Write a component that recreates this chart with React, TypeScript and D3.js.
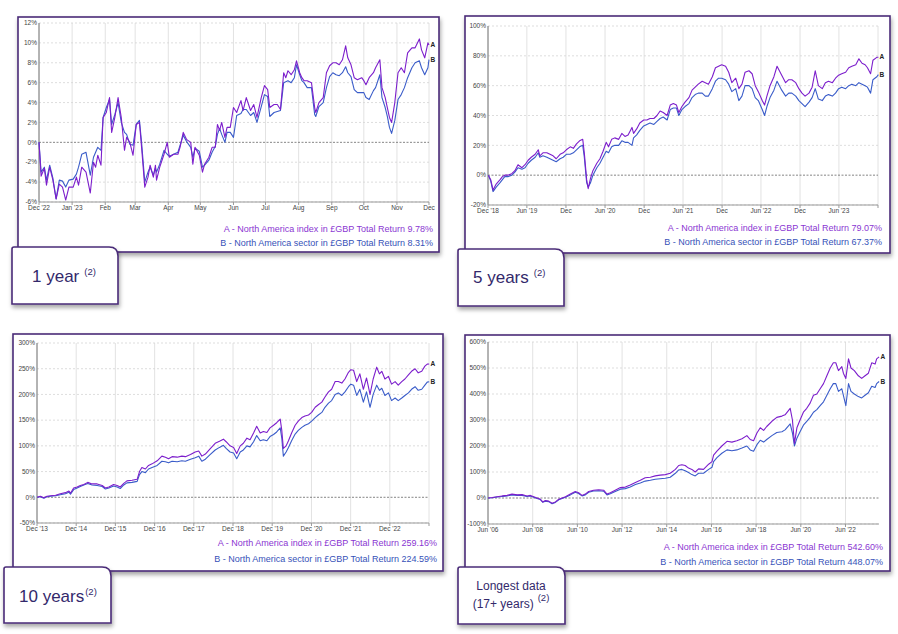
import React from 'react';
import * as d3 from 'd3';

// ---------- 1 year (days since 1 Dec 2022) ----------
const oneYearDays = [0,2,5,7,10,13,16,19,22,25,28,32,35,37,40,44,48,51,53,55,58,60,63,66,68,71,74,77,80,82,85,88,91,94,96,99,102,104,107,109,110,113,117,120,122,126,130,132,135,138,142,144,146,150,153,155,159,162,165,167,169,171,174,176,179,182,185,189,191,194,198,201,204,208,211,214,216,220,223,226,229,231,233,236,239,241,244,246,248,251,255,258,259,262,266,269,272,275,278,281,284,287,289,292,295,298,302,304,306,309,313,315,319,321,324,326,328,330,333,336,339,342,345,349,352,356,358,361,364,365];
const oneYearA = [0,-3.4,-2.6,-4.3,-2.5,-3.8,-5.7,-4.2,-4.5,-5.8,-4.5,-4.5,-3.5,-4.3,-2.5,-3,-5.1,-2,-2.5,-1.3,-2.3,2.5,3,4.5,1,2.5,4.5,2.5,-0.8,0.5,0,-1.3,1.8,2,-0.5,-4.5,-3.5,-2.3,-3.5,-2.3,-3.8,-2.5,-1.2,0,-1.5,-1.2,-1.2,-0.5,1,0.3,0,-2.2,-0.5,-1.3,-3,-2.2,-1.5,-0.5,-0.5,1.8,1.2,2,0.5,1.5,1.5,3.5,3,4.2,3.2,4.5,3.2,3.8,2.5,4.5,5.7,5.3,3.5,3.8,3.8,3.3,7,6.5,7.2,6.8,7.3,8.2,7,6.5,6.2,6.2,6,3.5,3,4,4.5,7,7.7,8,8,7.8,8.3,9.7,8.5,7.8,6.5,6.3,6.5,6.2,5.8,6.5,7,7.5,8.3,5.5,4.5,3.5,2.5,2,4,7,7.5,7,9,9.5,9.5,10.4,9.3,8.5,10,9.78];
const oneYearB = [0,-3,-2.5,-3.8,-2.3,-3.6,-5.7,-3.8,-3.9,-4.5,-3.8,-3.7,-3.2,-2.5,-1.2,-1,-3.3,-1.5,-1,-0.5,-0.8,2.5,3.5,4.3,1.8,2.8,4,2,1,0.8,-0.2,-0.3,1.8,2.2,0,-4,-3,-2.5,-3.3,-2.6,-3,-2.2,-0.8,-1.2,-1.4,-1.2,-1,-0.3,0.7,0.1,-0.5,-1.5,-0.6,-0.9,-2.5,-2.3,-1.8,-1,-0.4,0.8,1.4,0.8,0,1,1,0.5,2.7,2.9,3.3,3.3,2.7,3,2,3.6,4.8,4.6,2.6,3,3.1,3.2,6,6.1,6.2,6,6.5,7.8,6.8,6.2,6,5.5,5.5,2.8,2.6,3.6,4,5.5,6.6,7,6.8,6.7,7,7.6,7,6.6,5.3,5,5,5,4.5,4.3,5.2,5.5,6.8,4.5,3.5,2.6,1.5,0.9,2.2,4.3,4.8,5.5,6.5,7.5,8,8.2,7.5,6.8,7.5,8.31];
const oneYearYTicks = [-6,-4,-2,0,2,4,6,8,10,12];
const oneYearXLabels = ["Dec '22","Jan '23","Feb","Mar","Apr","May","Jun","Jul","Aug","Sep","Oct","Nov","Dec"];

// ---------- 5 years (decimal years) ----------
const fiveYearDates = [2018.92,2018.95,2018.98,2019.02,2019.07,2019.10,2019.13,2019.17,2019.22,2019.26,2019.30,2019.35,2019.39,2019.43,2019.47,2019.52,2019.56,2019.58,2019.62,2019.67,2019.71,2019.75,2019.79,2019.84,2019.88,2019.92,2019.97,2020.01,2020.05,2020.09,2020.13,2020.15,2020.18,2020.20,2020.23,2020.26,2020.31,2020.35,2020.39,2020.43,2020.46,2020.50,2020.54,2020.59,2020.63,2020.67,2020.71,2020.76,2020.78,2020.82,2020.86,2020.91,2020.95,2020.99,2021.04,2021.08,2021.12,2021.16,2021.21,2021.25,2021.29,2021.33,2021.36,2021.40,2021.44,2021.49,2021.53,2021.57,2021.61,2021.66,2021.70,2021.74,2021.79,2021.83,2021.87,2021.91,2021.96,2022.00,2022.04,2022.09,2022.13,2022.17,2022.21,2022.26,2022.30,2022.34,2022.38,2022.43,2022.46,2022.49,2022.53,2022.58,2022.62,2022.65,2022.68,2022.73,2022.77,2022.81,2022.86,2022.90,2022.94,2022.98,2023.03,2023.07,2023.11,2023.15,2023.20,2023.24,2023.28,2023.33,2023.37,2023.41,2023.45,2023.50,2023.54,2023.58,2023.63,2023.67,2023.71,2023.75,2023.78,2023.82,2023.85,2023.90,2023.92];
const fiveYearA = [0,-3,-10,-6,-3,-1,0,0,1,3,7,5,7,10,12,14,17,13,15,15,14,13,11,14,15,17,19,18,21,23,24,15,-3,-9,-2,3,8,11,16,22,19,24,25,24,28,26,27,32,28,31,35,37,37,38,38,40,43,42,40,47,48,47,42,46,49,52,57,59,61,63,62,61,66,72,73,74,73,69,62,65,58,61,69,70,68,60,56,50,47,53,60,66,73,70,67,62,64,64,62,58,55,53,55,59,70,60,58,62,63,62,65,67,68,69,72,73,74,78,75,74,72,68,77,79,79.07];
const fiveYearB = [0,-4,-11,-8,-5,-3,-1,-1,0,2,5,4,5,8,10,12,15,12,13,12,11,10,9,11,12,14,14,15,17,19,20,12,-5,-8,-5,0,5,8,12,16,15,19,20,20,23,22,22,20,25,27,30,33,34,35,34,36,38,39,37,44,45,45,40,44,46,48,52,54,55,55,53,53,58,63,65,65,64,61,56,58,50,53,60,60,58,52,50,44,40,46,52,57,63,60,57,53,55,55,53,50,48,46,49,52,58,51,50,53,54,53,55,58,59,58,60,61,60,62,61,60,59,55,64,66,67.37];
const fiveYearYTicks = [-20,0,20,40,60,80,100];
const fiveYearXLabels = ["Dec '18","Jun '19","Dec","Jun '20","Dec","Jun '21","Dec","Jun '22","Dec","Jun '23",""];

// ---------- 10 years (decimal years) ----------
const tenYearDates = [2013.92,2014.00,2014.09,2014.17,2014.26,2014.39,2014.51,2014.64,2014.73,2014.77,2014.85,2014.94,2015.02,2015.11,2015.21,2015.32,2015.45,2015.58,2015.66,2015.75,2015.87,2015.96,2016.04,2016.13,2016.21,2016.34,2016.47,2016.53,2016.59,2016.68,2016.76,2016.85,2016.98,2017.10,2017.19,2017.27,2017.36,2017.49,2017.61,2017.70,2017.83,2017.95,2018.04,2018.12,2018.21,2018.33,2018.46,2018.57,2018.67,2018.74,2018.84,2018.93,2019.01,2019.10,2019.18,2019.27,2019.35,2019.44,2019.52,2019.61,2019.69,2019.78,2019.86,2019.95,2020.03,2020.12,2020.16,2020.20,2020.27,2020.33,2020.41,2020.50,2020.58,2020.67,2020.75,2020.84,2020.92,2021.01,2021.09,2021.18,2021.26,2021.35,2021.43,2021.52,2021.60,2021.69,2021.77,2021.86,2021.92,2021.99,2022.07,2022.15,2022.24,2022.32,2022.41,2022.49,2022.58,2022.65,2022.71,2022.79,2022.88,2022.96,2023.05,2023.13,2023.22,2023.30,2023.39,2023.47,2023.56,2023.64,2023.73,2023.81,2023.87,2023.92];
const tenYearA = [0,2,-1,2,3,4,7,9,12,8,18,20,23,25,29,26,26,23,18,20,25,23,20,27,32,33,35,50,58,55,62,65,71,80,78,75,79,78,80,79,83,88,90,80,84,94,105,109,113,108,100,97,85,100,105,115,112,125,138,125,128,126,135,140,145,152,130,95,100,110,125,140,148,155,158,160,165,175,180,185,195,205,210,225,225,222,230,243,248,247,225,240,210,232,200,230,253,240,245,230,235,220,225,218,225,230,238,245,250,242,245,255,259,259.16];
const tenYearB = [0,1,-2,1,2,3,5,7,10,6,15,18,21,24,27,24,23,21,16,18,22,20,17,24,28,29,31,44,50,48,55,58,62,70,69,67,70,69,71,70,74,77,80,70,74,83,92,97,101,95,88,86,75,88,92,100,98,108,120,110,112,110,118,122,127,135,115,80,88,97,110,123,130,136,140,143,148,155,160,165,175,183,188,200,203,198,205,215,220,218,198,210,185,205,175,200,218,208,212,198,203,188,193,188,193,198,203,210,215,208,210,218,224,224.59];
const tenYearYTicks = [-50,0,50,100,150,200,250,300];
const tenYearXLabels = ["Dec '13","Dec '14","Dec '15","Dec '16","Dec '17","Dec '18","Dec '19","Dec '20","Dec '21","Dec '22",""];

// ---------- Longest (decimal years) ----------
const longDates = [2006.42,2006.60,2006.82,2007.05,2007.27,2007.49,2007.72,2007.94,2008.16,2008.31,2008.46,2008.61,2008.76,2008.86,2008.98,2009.13,2009.28,2009.43,2009.58,2009.73,2009.88,2010.10,2010.32,2010.47,2010.62,2010.77,2010.92,2011.14,2011.37,2011.59,2011.74,2011.89,2012.11,2012.34,2012.56,2012.78,2013.01,2013.23,2013.45,2013.68,2013.90,2014.12,2014.35,2014.57,2014.80,2014.95,2015.09,2015.24,2015.39,2015.54,2015.69,2015.84,2016.06,2016.29,2016.44,2016.51,2016.66,2016.88,2017.11,2017.33,2017.55,2017.78,2018.00,2018.15,2018.30,2018.45,2018.60,2018.75,2018.89,2019.12,2019.34,2019.57,2019.71,2019.94,2020.04,2020.13,2020.24,2020.38,2020.53,2020.68,2020.83,2020.98,2021.13,2021.28,2021.43,2021.58,2021.73,2021.87,2021.98,2022.10,2022.25,2022.32,2022.43,2022.55,2022.66,2022.81,2022.99,2023.14,2023.29,2023.44,2023.59,2023.74,2023.81,2023.92];
const longA = [0,2,5,8,10,15,12,13,8,10,5,0,-5,-15,-10,-12,-20,-15,-5,0,5,15,25,20,10,15,25,30,32,30,15,20,30,40,42,50,60,68,78,80,85,88,90,95,110,125,128,125,115,110,100,112,110,130,140,165,180,200,218,215,220,228,240,225,220,250,270,260,275,295,310,315,320,345,300,210,270,300,330,345,365,395,400,420,440,470,500,520,520,490,505,480,460,535,500,490,470,460,470,480,520,515,535,542.6];
const longB = [0,1,4,6,8,12,10,10,6,8,3,-2,-6,-16,-12,-14,-22,-17,-7,-2,3,12,22,17,8,12,22,27,28,26,12,16,25,34,36,42,52,58,65,68,72,74,76,80,95,108,110,105,98,90,85,95,95,110,118,140,155,172,185,182,185,192,200,185,180,205,222,215,225,240,252,255,262,285,250,200,230,255,280,295,310,330,340,355,370,395,420,440,440,410,420,395,355,440,410,400,390,385,395,405,430,425,440,448.07];
const longYTicks = [-100,0,100,200,300,400,500,600];
const longXLabels = ["Jun '06","Jun '08","Jun '10","Jun '12","Jun '14","Jun '16","Jun '18","Jun '20","Jun '22"];

// ---------- legend totals & tags ----------
const totalsA = ["9.78%","79.07%","259.16%","542.60%"];
const totalsB = ["8.31%","67.37%","224.59%","448.07%"];
const tagTitles = ["1 year","5 years","10 years","Longest data"];

const FONT = "'Liberation Sans', Arial, Helvetica, sans-serif";
const COLOR_A = '#7c1ecc';
const COLOR_B = '#3a5cc9';
const LEG_A = '#8a36d2';
const LEG_B = '#3651b8';
const BORDER = '#4a2b78';
const TAG_TEXT = '#33296b';

const decYear = (v: number) => {
  const y = Math.floor(v);
  const s = new Date(y, 0, 1).getTime();
  const e = new Date(y + 1, 0, 1).getTime();
  return new Date(s + (v - y) * (e - s));
};

type Spec = {
  box: [number, number, number, number];
  plot: [number, number, number, number];
  dates: Date[];
  a: number[];
  b: number[];
  xDomain: [Date, Date];
  yDomain: [number, number];
  yTicks: number[];
  xTicks: Date[];
  xLabels: string[];
  legendA: string;
  legendB: string;
  legendRight: number;
  legendY: [number, number];
};

function Panel({ s }: { s: Spec }) {
  const [px0, py0, px1, py1] = s.plot;
  const x = d3.scaleTime().domain(s.xDomain).range([px0, px1]);
  const y = d3.scaleLinear().domain(s.yDomain).range([py1, py0]);
  const line = d3
    .line<number>()
    .x((_, i) => x(s.dates[i]))
    .y((d) => y(d));
  const lastA = s.a[s.a.length - 1];
  const lastB = s.b[s.b.length - 1];
  return (
    <g fontFamily={FONT}>
      <rect x={s.box[0]} y={s.box[1]} width={s.box[2]} height={s.box[3]} fill="#fff" stroke={BORDER} strokeWidth={1.6} filter="url(#shadow)" />
      {s.xTicks.map((t, i) => (
        <line key={'vx' + i} x1={x(t)} x2={x(t)} y1={py0} y2={py1} stroke="#e2e2e2" strokeWidth={1} />
      ))}
      {s.yTicks.map((v, i) =>
        v === 0 ? null : (
          <line key={'hy' + i} x1={px0} x2={px1} y1={y(v)} y2={y(v)} stroke="#d4d4d4" strokeWidth={0.8} strokeDasharray="2,2" />
        )
      )}
      <line x1={px0} x2={px1} y1={y(0)} y2={y(0)} stroke="#666" strokeWidth={0.8} strokeDasharray="2,1.5" />
      <line x1={px0} x2={px0} y1={py0} y2={py1} stroke="#777" strokeWidth={1} />
      <line x1={px0} x2={px1} y1={py1} y2={py1} stroke="#999" strokeWidth={1} />
      {s.xTicks.map((t, i) => (
        <line key={'tx' + i} x1={x(t)} x2={x(t)} y1={py1} y2={py1 + 3} stroke="#999" strokeWidth={1} />
      ))}
      {s.yTicks.map((v, i) => (
        <text key={'ly' + i} x={px0 - 2} y={y(v)} dy="0.35em" fontSize={6.5} fill="#444" textAnchor="end">
          {v + '%'}
        </text>
      ))}
      {s.xTicks.map((t, i) =>
        s.xLabels[i] ? (
          <text key={'lx' + i} x={x(t)} y={py1 + 8} fontSize={6.5} fill="#444" textAnchor="middle">
            {s.xLabels[i]}
          </text>
        ) : null
      )}
      <path d={line(s.b) || ''} fill="none" stroke={COLOR_B} strokeWidth={1.1} strokeLinejoin="round" />
      <path d={line(s.a) || ''} fill="none" stroke={COLOR_A} strokeWidth={1.1} strokeLinejoin="round" />
      <text x={px1 + 1.5} y={y(lastA)} dy="0.35em" fontSize={6.5} fontWeight="bold" fill="#222">A</text>
      <text x={px1 + 1.5} y={y(lastB)} dy="0.35em" fontSize={6.5} fontWeight="bold" fill="#222">B</text>
      <text x={s.legendRight} y={s.legendY[0]} fontSize={9} fill={LEG_A} textAnchor="end">
        {s.legendA}
      </text>
      <text x={s.legendRight} y={s.legendY[1]} fontSize={9} fill={LEG_B} textAnchor="end">
        {s.legendB}
      </text>
    </g>
  );
}

function tagPath(x: number, y: number, w: number, h: number) {
  const r = 9;
  const r0 = 2;
  return `M${x},${y + h} L${x},${y + r0} Q${x},${y} ${x + r0},${y} L${x + w - r},${y} Q${x + w},${y} ${x + w},${y + r} L${x + w},${y + h} Z`;
}

function Tag({ box, children }: { box: [number, number, number, number]; children: React.ReactNode }) {
  return (
    <g fontFamily={FONT}>
      <path d={tagPath(box[0], box[1], box[2], box[3])} fill="#fff" stroke={BORDER} strokeWidth={1.6} filter="url(#shadow)" />
      {children}
    </g>
  );
}

export default function App() {
  const start1 = new Date(2022, 11, 1);
  const specs: Spec[] = [
    {
      box: [18, 17, 421, 235],
      plot: [39, 23, 429, 202],
      dates: oneYearDays.map((d) => d3.timeDay.offset(start1, d)),
      a: oneYearA,
      b: oneYearB,
      xDomain: [start1, new Date(2023, 11, 1)],
      yDomain: [-6, 12],
      yTicks: oneYearYTicks,
      xTicks: d3.timeMonth.range(start1, new Date(2023, 11, 2)),
      xLabels: oneYearXLabels,
      legendA: 'A - North America index in £GBP Total Return ' + totalsA[0],
      legendB: 'B - North America sector in £GBP Total Return ' + totalsB[0],
      legendRight: 433,
      legendY: [232, 246],
    },
    {
      box: [465, 16, 425, 237],
      plot: [488, 26, 878, 205],
      dates: fiveYearDates.map(decYear),
      a: fiveYearA,
      b: fiveYearB,
      xDomain: [new Date(2018, 11, 1), new Date(2023, 11, 1)],
      yDomain: [-20, 100],
      yTicks: fiveYearYTicks,
      xTicks: d3.timeMonth.range(new Date(2018, 11, 1), new Date(2023, 11, 2), 6),
      xLabels: fiveYearXLabels,
      legendA: 'A - North America index in £GBP Total Return ' + totalsA[1],
      legendB: 'B - North America sector in £GBP Total Return ' + totalsB[1],
      legendRight: 882,
      legendY: [231, 245],
    },
    {
      box: [13, 334, 430, 237],
      plot: [37, 343, 429, 523],
      dates: tenYearDates.map(decYear),
      a: tenYearA,
      b: tenYearB,
      xDomain: [new Date(2013, 11, 1), new Date(2023, 11, 1)],
      yDomain: [-50, 300],
      yTicks: tenYearYTicks,
      xTicks: d3.timeMonth.range(new Date(2013, 11, 1), new Date(2023, 11, 2), 12),
      xLabels: tenYearXLabels,
      legendA: 'A - North America index in £GBP Total Return ' + totalsA[2],
      legendB: 'B - North America sector in £GBP Total Return ' + totalsB[2],
      legendRight: 437,
      legendY: [546, 562],
    },
    {
      box: [465, 335, 425, 236],
      plot: [488, 342, 879, 524],
      dates: longDates.map(decYear),
      a: longA,
      b: longB,
      xDomain: [new Date(2006, 5, 1), new Date(2023, 11, 1)],
      yDomain: [-100, 600],
      yTicks: longYTicks,
      xTicks: d3.timeMonth.range(new Date(2006, 5, 1), new Date(2023, 11, 2), 24),
      xLabels: longXLabels,
      legendA: 'A - North America index in £GBP Total Return ' + totalsA[3],
      legendB: 'B - North America sector in £GBP Total Return ' + totalsB[3],
      legendRight: 883,
      legendY: [550, 565],
    },
  ];

  return (
    <svg width={898} height={634} style={{ position: 'absolute', left: 0, top: 0, background: '#fff' }}>
      <defs>
        <filter id="shadow" x="-10%" y="-10%" width="125%" height="130%">
          <feDropShadow dx={1} dy={3} stdDeviation={2} floodColor="#000" floodOpacity={0.35} />
        </filter>
      </defs>
      <rect x={0} y={0} width={898} height={634} fill="#fff" />
      {specs.map((s, i) => (
        <Panel key={i} s={s} />
      ))}
      <Tag box={[12, 247, 106, 57]}>
        <text x={32} y={282} fontSize={17} fill={TAG_TEXT}>
          {tagTitles[0]}
          <tspan dx={5} dy={-7} fontSize={9.5}>(2)</tspan>
        </text>
      </Tag>
      <Tag box={[458, 249, 106, 57]}>
        <text x={473} y={283} fontSize={17} fill={TAG_TEXT}>
          {tagTitles[1]}
          <tspan dx={5} dy={-7} fontSize={9.5}>(2)</tspan>
        </text>
      </Tag>
      <Tag box={[4, 567, 107, 56]}>
        <text x={19} y={602} fontSize={17} fill={TAG_TEXT}>
          {tagTitles[2]}
          <tspan dx={1} dy={-7} fontSize={9.5}>(2)</tspan>
        </text>
      </Tag>
      <Tag box={[458, 567, 107, 57]}>
        <text x={511} y={590} fontSize={12} fill={TAG_TEXT} textAnchor="middle">
          {tagTitles[3]}
        </text>
        <text x={511} y={608} fontSize={12} fill={TAG_TEXT} textAnchor="middle">
          (17+ years)
          <tspan dx={4} dy={-7} fontSize={9.5}>(2)</tspan>
        </text>
      </Tag>
    </svg>
  );
}
